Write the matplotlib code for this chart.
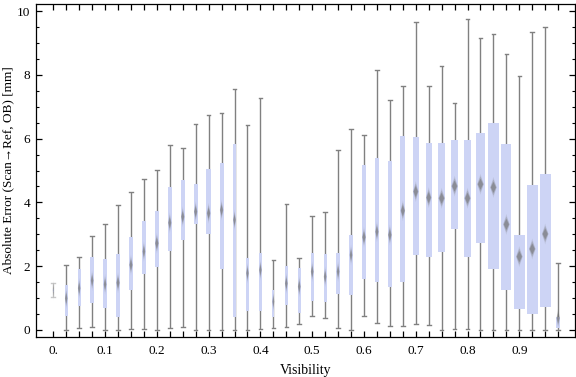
import matplotlib.pyplot as plt
import numpy as np

# =====================================================
# Data (one box per visibility bin, step 0.025)
# =====================================================

visibility = [round(0.025 * i, 3) for i in range(40)]

whisker_low = [
    1.03, 0.00, 0.05, 0.10, 0.00, 0.00, 0.03, 0.03, 0.00, 0.05,
    0.08, 0.00, 0.00, 0.00, 0.00, 0.00, 0.03, 0.05, 0.08, 0.18,
    0.43, 0.37, 0.05, 0.00, 0.44, 0.21, 0.12, 0.12, 0.18, 0.15,
    0.00, 0.03, 0.03, 0.00, 0.00, 0.00, 0.00, 0.00, 0.00, 0.00
]

q1 = [
    1.20, 0.43, 0.76, 0.86, 0.68, 0.42, 1.26, 1.77, 1.98, 2.49,
    2.83, 3.33, 3.02, 1.90, 0.42, 0.61, 0.61, 0.42, 0.78, 0.54,
    0.92, 0.89, 1.12, 1.11, 1.61, 1.51, 1.34, 1.51, 2.35, 2.30,
    2.46, 3.18, 2.30, 2.74, 1.92, 1.26, 0.67, 0.51, 0.73, 0.07
]

median = [
    1.25, 0.99, 1.31, 1.55, 1.43, 1.48, 2.04, 2.46, 2.72, 3.36,
    3.55, 3.71, 3.66, 3.76, 3.45, 1.78, 1.88, 0.89, 1.46, 1.36,
    1.83, 1.67, 1.83, 2.35, 2.91, 3.08, 2.98, 3.74, 4.34, 4.15,
    4.13, 4.51, 4.13, 4.57, 4.47, 3.31, 2.30, 2.54, 3.01, 0.37
]

q3 = [
    1.30, 1.41, 1.90, 2.29, 2.22, 2.37, 2.92, 3.42, 3.73, 4.48,
    4.70, 4.58, 5.05, 5.22, 5.83, 2.27, 2.41, 1.25, 2.02, 1.93,
    2.40, 2.37, 2.40, 2.98, 5.17, 5.38, 5.30, 6.08, 6.05, 5.85,
    5.86, 5.96, 5.96, 6.18, 6.49, 5.83, 2.98, 4.55, 4.89, 0.40
]

whisker_high = [
    1.47, 2.03, 2.28, 2.94, 3.31, 3.91, 4.32, 4.72, 5.01, 5.79,
    5.70, 6.45, 6.73, 6.81, 7.54, 6.42, 7.26, 2.18, 3.95, 2.26,
    3.57, 3.70, 5.64, 6.30, 6.10, 8.14, 7.21, 7.64, 9.65, 7.64,
    8.27, 7.11, 9.74, 9.14, 9.27, 8.64, 7.95, 9.33, 9.50, 2.09
]

# relative sample size per bin (drives box width)
rel_count = [
    0.09, 0.27, 0.27, 0.29, 0.29, 0.35, 0.35, 0.29, 0.38, 0.35,
    0.35, 0.35, 0.38, 0.35, 0.29, 0.27, 0.27, 0.20, 0.29, 0.29,
    0.29, 0.29, 0.29, 0.29, 0.38, 0.35, 0.38, 0.47, 0.56, 0.56,
    0.65, 0.65, 0.65, 0.82, 0.97, 0.88, 0.97, 1.00, 0.95, 0.35
]

x_labels = ['0.', '0.1', '0.2', '0.3', '0.4', '0.5', '0.6', '0.7', '0.8', '0.9']

# =====================================================
# Figure
# =====================================================

plt.rcParams['font.family'] = ['Liberation Serif', 'DejaVu Serif']

fig = plt.figure(figsize=(5.76, 3.77), dpi=100)
ax = fig.add_axes([36 / 576, 1 - 337 / 377, 539 / 576, 333 / 377])

xmin, xmax = -0.0334, 1.0075
ymin, ymax = -0.22, 10.22
ax.set_xlim(xmin, xmax)
ax.set_ylim(ymin, ymax)

px_x = (xmax - xmin) / 539.0
px_y = (ymax - ymin) / 333.0

box_color = '#cdd4f5'
whisker_color = '#808080'
max_width = 11.3 * px_x

for i, x in enumerate(visibility):
    w = max(rel_count[i] * max_width, 1.0 * px_x)
    lo, a, m, b, hi = whisker_low[i], q1[i], median[i], q3[i], whisker_high[i]
    wc = '#c8c8c8' if i == 0 else whisker_color

    # whiskers + caps
    ax.plot([x, x], [lo, hi], color=wc, lw=1.0, zorder=2, solid_capstyle='butt')
    cap = 1.8 * px_x
    ax.plot([x - cap, x + cap], [hi, hi], color=wc, lw=1.0, zorder=2)
    ax.plot([x - cap, x + cap], [lo, lo], color=wc, lw=1.0, zorder=2)

    # box
    ax.add_patch(plt.Rectangle((x - w / 2, a), w, b - a,
                               facecolor=box_color, edgecolor='none', zorder=3))

    # median diamond, soft edges
    hw = min(w * 0.42, 3.2 * px_x)
    hh = 7.0 * px_y
    for k, al in [(1.5, 0.15), (1.15, 0.28), (0.8, 0.5)]:
        dx = hw * min(k, 1.0)
        dy = hh * k
        ax.fill([x - dx, x, x + dx, x], [m, m + dy, m, m - dy],
                color='#6e6e6e', alpha=al, lw=0, zorder=4)

# =====================================================
# Axes styling
# =====================================================

ax.set_xticks(visibility)
ax.set_xticklabels([x_labels[i // 4] if i % 4 == 0 else '' for i in range(40)])
ax.set_yticks([0, 2, 4, 6, 8, 10])
ax.set_yticks(np.arange(0, 10.01, 0.5), minor=True)

ax.tick_params(axis='both', which='major', direction='in', length=4, width=0.9,
               top=True, right=True, labelsize=9.5, colors='black')
ax.tick_params(axis='y', which='minor', direction='in', length=2, width=0.8,
               right=True, left=True)
ax.tick_params(axis='x', which='major', pad=6)
ax.tick_params(axis='y', which='major', pad=4)

for s in ax.spines.values():
    s.set_linewidth(0.9)

ax.set_xlabel('Visibility', fontsize=10, labelpad=5)
ax.set_ylabel('Absolute Error (Scan\u2192Ref, OB) [mm]', fontsize=9.5)
ax.yaxis.set_label_coords((14 - 36) / 539, 0.5)

fig.savefig('out.png', dpi=100)
